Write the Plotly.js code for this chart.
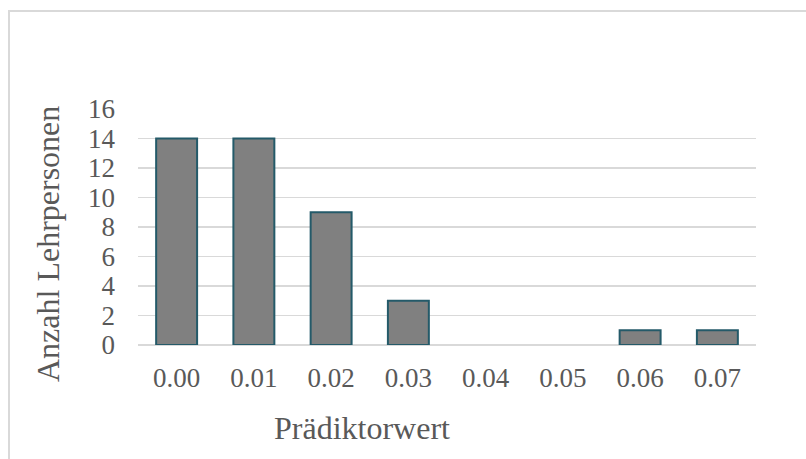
<!DOCTYPE html>
<html>
<head>
<meta charset="utf-8">
<script src="https://cdn.plot.ly/plotly-3.0.1.min.js"></script>
<style>
  html, body { margin: 0; padding: 0; background: #ffffff; }
  #wrap { position: relative; width: 806px; height: 459px; overflow: hidden; }
  #chart { position: absolute; left: 0; top: 0; width: 806px; height: 459px; }
  #frame {
    position: absolute; left: 8px; top: 10px; width: 900px; height: 600px;
    border-left: 2px solid #d9d9d9; border-top: 2px solid #d9d9d9;
    pointer-events: none;
  }
</style>
</head>
<body>
<div id="wrap">
  <div id="chart"></div>
  <div id="frame"></div>
</div>
<script>
// Predictor value bins and number of teachers in each bin
const categories = ["0.00", "0.01", "0.02", "0.03", "0.04", "0.05", "0.06", "0.07"];
const counts = [14, 14, 9, 3, 0, 0, 1, 1];
const yTicks = [0, 2, 4, 6, 8, 10, 12, 14, 16];
const xTitle = "Prädiktorwert";
const yTitle = "Anzahl Lehrpersonen";

const serif = "'Liberation Serif', 'Times New Roman', Times, serif";
const textColor = "#595959";
const gridColor = "#d9d9d9";

const trace = {
  type: "bar",
  x: categories,
  y: counts,
  marker: {
    color: "#808080",
    // empty bins get no outline so nothing is stroked along the baseline
    line: { color: "#245a69", width: counts.map(v => (v > 0 ? 2 : 0)) }
  },
  hoverinfo: "x+y"
};

const layout = {
  width: 806,
  height: 459,
  margin: { l: 138, r: 50, t: 109, b: 114 },
  paper_bgcolor: "#ffffff",
  plot_bgcolor: "#ffffff",
  bargap: 0.47,
  showlegend: false,
  font: { family: serif, color: textColor, size: 27 },
  xaxis: {
    type: "category",
    showgrid: false,
    showline: false,
    zeroline: false,
    ticks: "",
    ticklabelstandoff: 14,
    tickfont: { family: serif, size: 27, color: textColor }
  },
  yaxis: {
    range: [0, 16],
    tickvals: yTicks,
    ticktext: yTicks.map(String),
    showgrid: true,
    gridcolor: gridColor,
    gridwidth: 1.5,
    zeroline: true,
    zerolinecolor: gridColor,
    zerolinewidth: 1.5,
    showline: false,
    ticks: "",
    ticklabelstandoff: 22,
    tickfont: { family: serif, size: 27, color: textColor }
  },
  annotations: [
    {
      text: xTitle,
      xref: "paper", yref: "paper",
      x: 0.3625, y: -0.352,
      xanchor: "center", yanchor: "middle",
      showarrow: false,
      font: { family: serif, size: 32, color: textColor }
    },
    {
      text: yTitle,
      xref: "paper", yref: "paper",
      x: -0.1456, y: 0.428,
      xanchor: "center", yanchor: "middle",
      textangle: -90,
      showarrow: false,
      font: { family: serif, size: 32, color: textColor }
    }
  ]
};

Plotly.newPlot("chart", [trace], layout, { displayModeBar: false, staticPlot: true });
</script>
</body>
</html>
